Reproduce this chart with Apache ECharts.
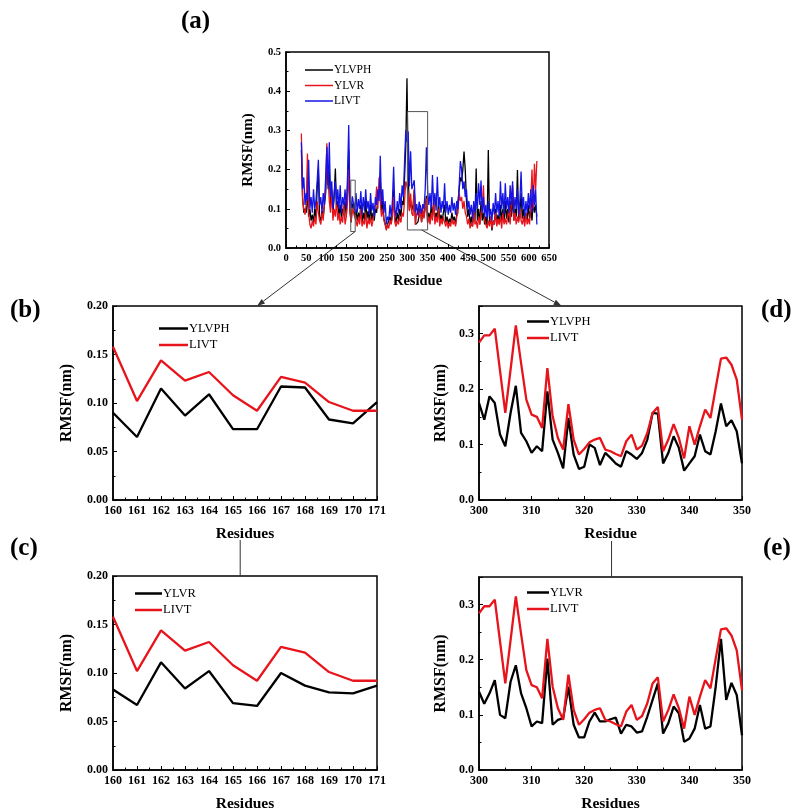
<!DOCTYPE html>
<html><head><meta charset="utf-8">
<script src="https://cdn.jsdelivr.net/npm/echarts@6/dist/echarts.min.js"></script>
<style>html,body{margin:0;padding:0;background:#fff}#c{width:800px;height:810px}</style>
</head><body><div id="c"></div>
<script>
// ---------- DATA ----------
// Panel (a): whole protein, sampled every 3rd residue starting at residue 38
const fullStart = 38, fullStep = 3;
const fullYLVPH = [
 0.250,0.130,0.090,0.100,0.090,0.140,0.080,0.100,0.070,0.085,
 0.065,0.100,0.075,0.150,0.200,0.080,0.070,0.095,0.080,0.110,
 0.140,0.220,0.160,0.200,0.110,0.130,0.090,0.130,0.203,0.100,
 0.120,0.080,0.110,0.075,0.100,0.090,0.120,0.080,0.150,0.250,
 0.100,0.065,0.109,0.117,0.078,0.100,0.070,0.090,0.075,0.110,
 0.065,0.090,0.070,0.120,0.075,0.095,0.065,0.110,0.070,0.090,
 0.070,0.100,0.090,0.130,0.150,0.180,0.090,0.120,0.075,0.080,
 0.048,0.060,0.060,0.080,0.065,0.090,0.150,0.080,0.065,0.090,
 0.070,0.100,0.080,0.120,0.110,0.180,0.260,0.433,0.187,0.097,
 0.121,0.097,0.109,0.148,0.060,0.063,0.066,0.082,0.109,0.066,
 0.094,0.079,0.082,0.133,0.066,0.090,0.070,0.110,0.080,0.120,
 0.070,0.090,0.075,0.120,0.065,0.085,0.070,0.090,0.110,0.065,
 0.080,0.060,0.075,0.065,0.090,0.070,0.080,0.060,0.085,0.090,
 0.150,0.180,0.170,0.200,0.246,0.200,0.120,0.080,0.100,0.060,
 0.080,0.055,0.090,0.070,0.203,0.070,0.100,0.060,0.120,0.070,
 0.090,0.060,0.080,0.055,0.250,0.060,0.080,0.045,0.070,0.060,
 0.100,0.065,0.085,0.060,0.110,0.070,0.100,0.065,0.120,0.075,
 0.100,0.065,0.120,0.080,0.130,0.070,0.100,0.080,0.199,0.070,
 0.090,0.140,0.075,0.100,0.065,0.090,0.070,0.110,0.075,0.100,
 0.070,0.120,0.090,0.110,0.080];
const fullYLVR = [
 0.292,0.120,0.100,0.085,0.110,0.241,0.090,0.060,0.050,0.070,
 0.055,0.080,0.060,0.120,0.090,0.070,0.060,0.090,0.070,0.120,
 0.150,0.267,0.180,0.120,0.090,0.150,0.070,0.100,0.080,0.120,
 0.070,0.090,0.060,0.080,0.065,0.110,0.060,0.080,0.120,0.200,
 0.090,0.067,0.102,0.100,0.078,0.070,0.055,0.080,0.060,0.100,
 0.055,0.070,0.060,0.090,0.050,0.075,0.060,0.080,0.055,0.070,
 0.065,0.110,0.157,0.100,0.180,0.120,0.080,0.100,0.070,0.060,
 0.045,0.060,0.050,0.070,0.060,0.080,0.130,0.065,0.055,0.070,
 0.060,0.080,0.065,0.090,0.080,0.120,0.170,0.160,0.139,0.094,
 0.139,0.088,0.082,0.151,0.059,0.088,0.095,0.079,0.097,0.066,
 0.103,0.075,0.079,0.127,0.063,0.080,0.060,0.090,0.070,0.130,
 0.060,0.080,0.065,0.100,0.055,0.075,0.060,0.080,0.065,0.055,
 0.070,0.050,0.065,0.055,0.075,0.060,0.070,0.055,0.080,0.090,
 0.140,0.120,0.130,0.100,0.120,0.090,0.080,0.060,0.075,0.050,
 0.065,0.055,0.100,0.060,0.070,0.050,0.080,0.060,0.090,0.100,
 0.160,0.070,0.060,0.050,0.070,0.055,0.080,0.050,0.070,0.060,
 0.090,0.055,0.075,0.060,0.080,0.050,0.090,0.060,0.075,0.060,
 0.080,0.100,0.060,0.120,0.160,0.070,0.090,0.060,0.080,0.065,
 0.100,0.070,0.060,0.080,0.055,0.090,0.060,0.075,0.060,0.120,
 0.200,0.100,0.215,0.150,0.222];
const fullLIVT = [
 0.270,0.150,0.180,0.110,0.140,0.120,0.225,0.100,0.130,0.090,
 0.150,0.100,0.120,0.170,0.225,0.110,0.130,0.090,0.140,0.110,
 0.180,0.258,0.150,0.270,0.130,0.170,0.100,0.140,0.170,0.110,
 0.150,0.100,0.160,0.090,0.130,0.110,0.150,0.100,0.180,0.314,
 0.120,0.102,0.132,0.128,0.092,0.140,0.090,0.125,0.100,0.145,
 0.085,0.130,0.095,0.150,0.100,0.120,0.085,0.140,0.095,0.115,
 0.080,0.130,0.110,0.150,0.120,0.235,0.110,0.150,0.090,0.120,
 0.060,0.080,0.070,0.110,0.080,0.120,0.207,0.100,0.080,0.120,
 0.090,0.140,0.100,0.160,0.130,0.220,0.300,0.270,0.297,0.157,
 0.247,0.150,0.151,0.173,0.092,0.112,0.083,0.118,0.121,0.088,
 0.112,0.100,0.148,0.257,0.148,0.110,0.140,0.100,0.186,0.110,
 0.140,0.095,0.182,0.105,0.130,0.090,0.120,0.100,0.165,0.090,
 0.120,0.085,0.110,0.090,0.130,0.095,0.115,0.085,0.120,0.100,
 0.160,0.222,0.200,0.150,0.170,0.130,0.150,0.100,0.120,0.085,
 0.110,0.075,0.120,0.090,0.140,0.100,0.165,0.110,0.172,0.090,
 0.130,0.080,0.110,0.075,0.120,0.080,0.100,0.070,0.115,0.085,
 0.140,0.090,0.120,0.080,0.170,0.100,0.140,0.085,0.165,0.100,
 0.130,0.090,0.160,0.110,0.170,0.090,0.130,0.100,0.150,0.085,
 0.120,0.195,0.100,0.130,0.080,0.120,0.090,0.140,0.100,0.150,
 0.090,0.160,0.110,0.150,0.060];

// Panels (b),(c): residues 160-171
const loopResidues = [160,161,162,163,164,165,166,167,168,169,170,171];
const loopYLVPH = [0.090,0.065,0.115,0.087,0.109,0.073,0.073,0.117,0.116,0.083,0.079,0.101];
const loopYLVR  = [0.083,0.067,0.111,0.084,0.102,0.069,0.066,0.100,0.087,0.080,0.079,0.087];
const loopLIVT  = [0.158,0.102,0.144,0.123,0.132,0.108,0.092,0.127,0.121,0.101,0.092,0.092];

// Panels (d),(e): residues 300-350
const regionStart = 300;
const regionYLVPH = [
 0.175,0.145,0.187,0.175,0.118,0.097,0.157,0.206,0.121,0.106,
 0.085,0.097,0.088,0.196,0.109,0.085,0.057,0.148,0.082,0.056,
 0.060,0.100,0.094,0.063,0.085,0.076,0.066,0.060,0.088,0.082,
 0.074,0.085,0.109,0.157,0.156,0.066,0.085,0.115,0.094,0.053,
 0.066,0.079,0.118,0.088,0.082,0.124,0.174,0.133,0.144,0.124,0.066];
const regionYLVR = [
 0.142,0.120,0.139,0.163,0.100,0.094,0.160,0.190,0.139,0.112,
 0.079,0.088,0.085,0.202,0.082,0.091,0.094,0.151,0.082,0.059,
 0.059,0.088,0.104,0.088,0.088,0.092,0.095,0.066,0.082,0.079,
 0.068,0.070,0.097,0.127,0.157,0.066,0.085,0.115,0.103,0.051,
 0.057,0.075,0.118,0.075,0.079,0.151,0.238,0.127,0.158,0.136,0.063];
const regionLIVT = [
 0.284,0.297,0.297,0.309,0.233,0.157,0.235,0.315,0.247,0.181,
 0.154,0.150,0.130,0.238,0.151,0.112,0.091,0.173,0.109,0.082,
 0.092,0.104,0.109,0.112,0.091,0.088,0.083,0.079,0.106,0.118,
 0.091,0.098,0.121,0.157,0.168,0.088,0.109,0.137,0.112,0.075,
 0.133,0.100,0.133,0.163,0.148,0.202,0.255,0.257,0.244,0.217,0.145];

// zoom boxes drawn on panel (a) [residue range, RMSF range]
const boxLoopX = [160, 171], boxLoopY = [0.042, 0.173];
const boxRegionX = [300, 350], boxRegionY = [0.046, 0.348];

// ---------- HELPERS ----------
const FONT = '"Liberation Serif","Times New Roman",serif';
const BLACK = '#000000', RED = '#e8141c', BLUE = '#1414e6';
const fullRes = fullLIVT.map((_, i) => fullStart + i * fullStep);
const regionRes = regionLIVT.map((_, i) => regionStart + i);
const pairs = (xs, ys) => ys.map((y, i) => [xs[i], y]);
const boxPath = (bx, by) => [[bx[0],by[0]],[bx[1],by[0]],[bx[1],by[1]],[bx[0],by[1]],[bx[0],by[0]]];

function grid(l, t, w, h) {
  return {left:l, top:t, width:w, height:h, show:true, borderColor:'#000', borderWidth:1.5,
          backgroundColor:'transparent', outerBoundsMode:'none'};
}
function xAx(gi, min, max, interval, name, fs, nfs, gap) {
  return {type:'value', gridIndex:gi, min, max, interval, name, nameLocation:'middle', nameGap:gap,
    nameTextStyle:{fontFamily:FONT, fontWeight:'bold', fontSize:nfs, color:'#000'},
    axisLine:{show:true, onZero:false, lineStyle:{color:'#000', width:1.5}},
    axisTick:{show:true, inside:true, length:4, lineStyle:{color:'#000', width:1}},
    minorTick:{show:true, splitNumber:2, length:2.5, lineStyle:{color:'#000', width:1}},
    axisLabel:{fontFamily:FONT, fontWeight:'bold', fontSize:fs, color:'#000', margin:5},
    splitLine:{show:false}};
}
function yAx(gi, min, max, interval, dec, fs, nfs, gap, hideMax) {
  return {type:'value', gridIndex:gi, min, max, interval, name:'RMSF(nm)', nameLocation:'middle', nameGap:gap,
    nameRotate:90,
    nameTextStyle:{fontFamily:FONT, fontWeight:'bold', fontSize:nfs, color:'#000'},
    axisLine:{show:true, onZero:false, lineStyle:{color:'#000', width:1.5}},
    axisTick:{show:true, inside:true, length:4, lineStyle:{color:'#000', width:1}},
    minorTick:{show:true, splitNumber:2, length:2.5, lineStyle:{color:'#000', width:1}},
    axisLabel:{fontFamily:FONT, fontWeight:'bold', fontSize:fs, color:'#000', margin:5,
               showMaxLabel: !hideMax, formatter: v => v.toFixed(dec)},
    splitLine:{show:false}};
}
function line(name, gi, data, color, width, z) {
  return {type:'line', name, xAxisIndex:gi, yAxisIndex:gi, data, symbol:'none', z:z||2,
          lineStyle:{color, width}, itemStyle:{color}, silent:true, animation:false};
}
function boxSeries(bx, by) {
  return {type:'line', xAxisIndex:0, yAxisIndex:0, data:boxPath(bx, by), symbol:'none', z:5,
          lineStyle:{color:'#555', width:1}, silent:true, animation:false};
}
function legend(left, top, items, iw, ih, fs, gap) {
  return {left, top, orient:'vertical', icon:'rect', itemWidth:iw, itemHeight:ih, itemGap:gap,
          selectedMode:false,
          textStyle:{fontFamily:FONT, fontSize:fs, color:'#000', padding:[0,0,0,-4]},
          data: items.map(([n, c]) => ({name:n, icon:'rect', itemStyle:{color:c, borderWidth:0}}))};
}
const panelTitle = (t, l, tp) => ({text:t, left:l, top:tp,
  textStyle:{fontFamily:FONT, fontWeight:'bold', fontSize:25, color:'#000'}});

// ---------- CHART ----------
const chart = echarts.init(document.getElementById('c'), null, {renderer:'canvas'});
const option = {
  animation:false,
  backgroundColor:'#fff',
  title:[panelTitle('(a)',176,4), panelTitle('(b)',5,293), panelTitle('(c)',5,531),
         panelTitle('(d)',756,293), panelTitle('(e)',758,531)],
  grid:[grid(286,52,263,196), grid(113,306,264,194), grid(113,576,264,194),
        grid(479,306,263,194), grid(479,577,263,193)],
  xAxis:[xAx(0,0,650,50,'Residue',10.5,14.5,26),
         xAx(1,160,171,1,'Residues',12,15.5,26),
         xAx(2,160,171,1,'Residues',12,15.5,26),
         xAx(3,300,350,10,'Residue',12,15.5,26),
         xAx(4,300,350,10,'Residues',12,15.5,26)],
  yAxis:[yAx(0,0,0.5,0.1,1,10.5,15,30,false),
         yAx(1,0,0.2,0.05,2,12,16,38,false),
         yAx(2,0,0.2,0.05,2,12,16,38,false),
         yAx(3,0,0.35,0.1,1,12,16,30,true),
         yAx(4,0,0.35,0.1,1,12,16,30,true)],
  legend:[legend(300,59,[['YLVPH',BLACK],['YLVR',RED],['LIVT',BLUE]],28,1.5,11.5,3.5),
          legend(154,317,[['YLVPH',BLACK],['LIVT',RED]],29,2.5,12.5,3.5),
          legend(130,582,[['YLVR',BLACK],['LIVT',RED]],27,2.5,12.5,3.5),
          legend(522,310,[['YLVPH',BLACK],['LIVT',RED]],22,2.5,12.5,3.5),
          legend(522,581,[['YLVR',BLACK],['LIVT',RED]],22,2.5,12.5,3.5)],
  series:[
    line('YLVPH',0,pairs(fullRes,fullYLVPH),BLACK,1.3,2),
    line('YLVR',0,pairs(fullRes,fullYLVR),RED,1.3,3),
    line('LIVT',0,pairs(fullRes,fullLIVT),BLUE,1.3,4),
    boxSeries(boxLoopX, boxLoopY),
    boxSeries(boxRegionX, boxRegionY),
    line('YLVPH',1,pairs(loopResidues,loopYLVPH),BLACK,2.3,3),
    line('LIVT',1,pairs(loopResidues,loopLIVT),RED,2.3,3),
    line('YLVR',2,pairs(loopResidues,loopYLVR),BLACK,2.3,3),
    line('LIVT',2,pairs(loopResidues,loopLIVT),RED,2.3,3),
    line('YLVPH',3,pairs(regionRes,regionYLVPH),BLACK,2.3,3),
    line('LIVT',3,pairs(regionRes,regionLIVT),RED,2.3,3),
    line('YLVR',4,pairs(regionRes,regionYLVR),BLACK,2.3,3),
    line('LIVT',4,pairs(regionRes,regionLIVT),RED,2.3,3)
  ]
};
chart.setOption(option);

// connector lines / arrows (annotation anchors in data coordinates)
const connectors = {
  loopFrom:[boxLoopX[1], boxLoopY[0]], loopTo:[166, 0.2],
  regionFrom:[335, boxRegionY[0]], regionTo:[315.7, 0.35],
  bToC:[165.3, 0.2], dToE:[325.2, 0.35]
};
function arrow(a, b) {
  const dx = b[0]-a[0], dy = b[1]-a[1], L = Math.hypot(dx, dy), ux = dx/L, uy = dy/L;
  const hl = 8, hw = 2.8, base = [b[0]-ux*hl, b[1]-uy*hl];
  return [
    {type:'line', shape:{x1:a[0], y1:a[1], x2:base[0], y2:base[1]}, style:{stroke:'#333', lineWidth:1}},
    {type:'polygon', shape:{points:[b, [base[0]-uy*hw, base[1]+ux*hw], [base[0]+uy*hw, base[1]-ux*hw]]},
     style:{fill:'#333'}}
  ];
}
const p1 = chart.convertToPixel({gridIndex:0}, connectors.loopFrom);
const q1 = chart.convertToPixel({gridIndex:1}, connectors.loopTo);
const p2 = chart.convertToPixel({gridIndex:0}, connectors.regionFrom);
const q2 = chart.convertToPixel({gridIndex:3}, connectors.regionTo);
const c1 = chart.convertToPixel({gridIndex:2}, connectors.bToC);
const e1 = chart.convertToPixel({gridIndex:4}, connectors.dToE);
chart.setOption({graphic:[
  ...arrow(p1, q1), ...arrow(p2, q2),
  {type:'line', shape:{x1:c1[0], y1:540, x2:c1[0], y2:c1[1]}, style:{stroke:'#333', lineWidth:1}},
  {type:'line', shape:{x1:e1[0], y1:541, x2:e1[0], y2:e1[1]}, style:{stroke:'#333', lineWidth:1}}
]});
</script></body></html>
